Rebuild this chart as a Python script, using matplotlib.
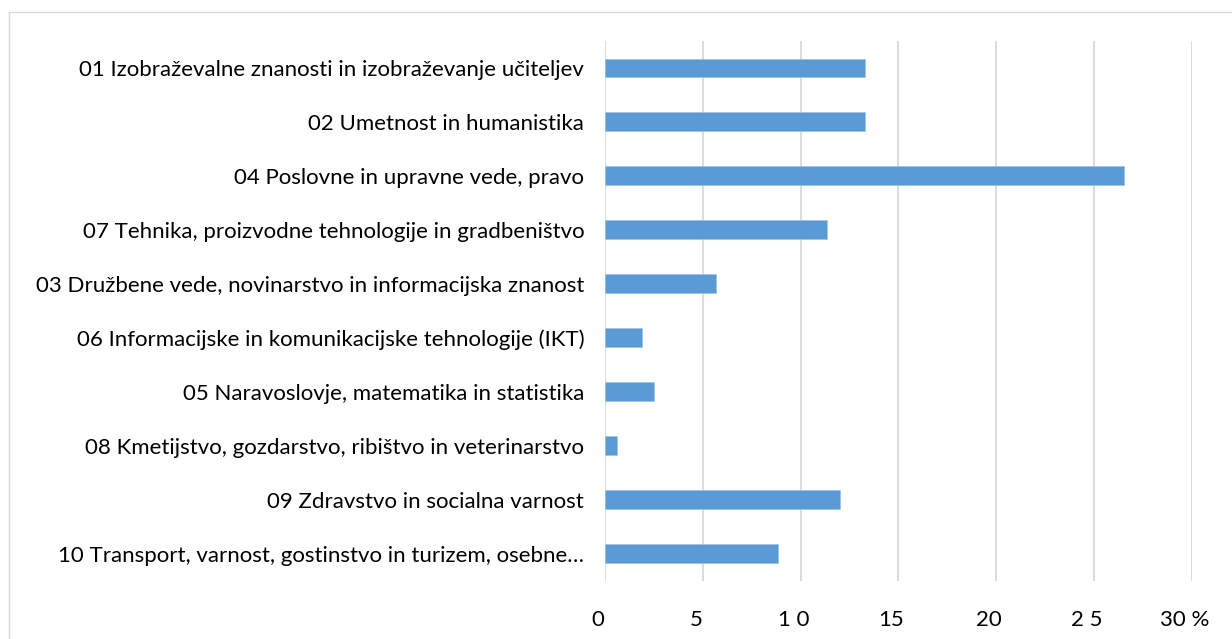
import matplotlib
matplotlib.use("Agg")
import matplotlib.pyplot as plt
from matplotlib.lines import Line2D
import matplotlib.transforms as mtransforms

categories = [
    "01 Izobraževalne znanosti in izobraževanje učiteljev",
    "02 Umetnost in humanistika",
    "04 Poslovne in upravne vede, pravo",
    "07 Tehnika, proizvodne tehnologije in gradbeništvo",
    "03 Družbene vede, novinarstvo in informacijska znanost",
    "06 Informacijske in komunikacijske tehnologije (IKT)",
    "05 Naravoslovje, matematika in statistika",
    "08 Kmetijstvo, gozdarstvo, ribištvo in veterinarstvo",
    "09 Zdravstvo in socialna varnost",
    "10 Transport, varnost, gostinstvo in turizem, osebne…",
]
values = [13.3, 13.3, 26.55, 11.37, 5.68, 1.88, 2.51, 0.63, 12.0, 8.85]
xticks = [0, 5, 10, 15, 20, 25, 30]
xtick_labels = ["0", "5", "1 0", "15", "20", "2 5", "30 %"]

plt.rcParams['font.family'] = ['Lato', 'DejaVu Sans']

W, H = 1232, 639
fig = plt.figure(figsize=(W / 100, H / 100), dpi=100)
ax = fig.add_axes([605 / W, 1 - 580.5 / H, (1191.5 - 605) / W, (580.5 - 41) / H])

y = list(range(len(categories)))
ax.barh(y, values, height=0.35, color="#5B9BD5", edgecolor="#9DC3E6", linewidth=0.5, zorder=3)
ax.set_ylim(len(categories) - 0.5, -0.5)
ax.set_xlim(0, 30)
ax.set_yticks(y)
ax.set_yticklabels(categories, fontsize=16, color="#000000")
ax.set_xticks(xticks)
ax.set_xticklabels(xtick_labels, fontsize=16, color="#000000")
ax.tick_params(axis="y", length=0, pad=15)
ax.tick_params(axis="x", length=0, pad=21)
offset = mtransforms.ScaledTranslation(-7 / 100, 0, fig.dpi_scale_trans)
for lbl in ax.get_xticklabels():
    lbl.set_transform(lbl.get_transform() + offset)
ax.grid(axis="x", color="#d9d9d9", linewidth=1.3, zorder=0)
for s in ax.spines.values():
    s.set_visible(False)

# chart border (cropped)
fig.add_artist(Line2D([9 / W, 1], [1 - 12 / H, 1 - 12 / H], color="#d9d9d9", linewidth=1, transform=fig.transFigure))
fig.add_artist(Line2D([9 / W, 9 / W], [0, 1 - 12 / H], color="#d9d9d9", linewidth=1, transform=fig.transFigure))

fig.savefig("out.png", dpi=100, facecolor="white")
